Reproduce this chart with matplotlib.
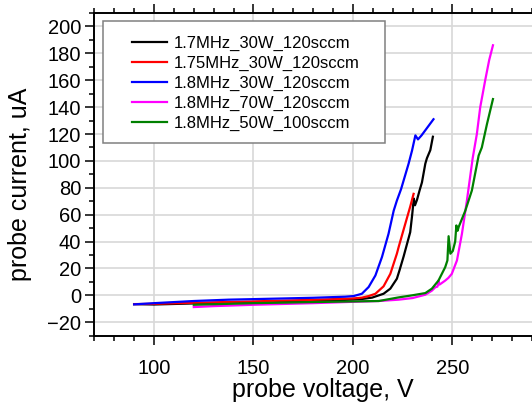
import matplotlib
matplotlib.use("Agg")
import matplotlib.pyplot as plt
from matplotlib.patches import Rectangle
from matplotlib.ticker import MultipleLocator

plt.rcParams['font.family'] = ['Liberation Sans', 'DejaVu Sans']

# probe voltage (V) / probe current (uA)
v_17_30_120 = [90, 100, 120, 150, 180, 200, 205, 209.6, 213, 215.4, 218.8, 222.1, 223.5,
               225.5, 228.8, 229.8, 230.6, 231.2, 232.2, 233.5, 234.7, 236.4, 237.2, 238.9, 240.2]
i_17_30_120 = [-6.5, -6.8, -6.0, -5.0, -4.0, -3.2, -2.6, -1.7, 0, 1.2, 5, 12.4, 19,
               29, 47, 60, 72, 67, 71, 78, 84, 98, 102, 108, 118]

v_175_30_120 = [90, 100, 120, 150, 180, 200, 204.5, 208, 211.3, 215.4, 218.8, 222.1, 223,
                225.5, 228.8, 230.5]
i_175_30_120 = [-6.5, -6.3, -5.5, -4.5, -3.3, -2.3, -1.7, -0.5, 1.2, 6.7, 16, 31, 36,
                49, 66, 75.5]

v_18_30_120 = [90, 100, 120, 137.5, 150, 180, 196, 200.4, 204.5, 207.9, 211.3, 214.6, 217.9,
               220.5, 222.1, 224.2, 228, 229.7, 231.4, 232.7, 234.5, 236.5, 238.5, 240.5]
i_18_30_120 = [-6.7, -5.8, -4.2, -3.2, -2.8, -1.8, -1.0, -0.5, 1.2, 6.2, 14.8, 28.5, 45.8,
               63, 70.5, 79, 98, 107.6, 119, 116, 119, 123, 127, 131]

v_18_70_120 = [120, 130, 150, 180, 200, 213, 223, 230, 236.4, 239.7, 241.4, 242.5, 243, 243.5,
               244.5, 246.4, 248, 249.7, 252.3, 254.8, 257.3, 260.2, 262.3, 264, 266.5, 268.5, 270.4]
i_18_70_120 = [-8.7, -8.0, -7.0, -5.8, -4.8, -4.2, -3.2, -2.0, 0.5, 3.5, 6, 6.5, 11, 8,
               9, 11, 13, 16, 26, 45.8, 70.5, 102, 120, 140, 160, 175, 186]

v_18_50_100 = [120, 130, 150, 180, 200, 213, 223, 229.7, 236.4, 239.7, 243, 244.7, 246.4,
               247.5, 248.1, 249.0, 250.2, 251.4, 252.0, 252.6, 253.2, 256.5, 259.8, 263.2,
               264.8, 267.4, 270.4]
i_18_50_100 = [-7.0, -6.6, -5.8, -5.0, -4.5, -4.2, -1.5, 0, 1.7, 5, 11, 16, 21,
               26, 44, 31, 33, 40, 52, 48, 51, 63, 78, 104, 110, 127.5, 146]

x_major = [100, 150, 200, 250]

series = [
    ('1.7MHz_30W_120sccm', v_17_30_120, i_17_30_120, 'black'),
    ('1.75MHz_30W_120sccm', v_175_30_120, i_175_30_120, '#ff0000'),
    ('1.8MHz_30W_120sccm', v_18_30_120, i_18_30_120, '#0000ff'),
    ('1.8MHz_70W_120sccm', v_18_70_120, i_18_70_120, '#ff00ff'),
    ('1.8MHz_50W_100sccm', v_18_50_100, i_18_50_100, '#008000'),
]

fig = plt.figure(figsize=(5.32, 4.03), dpi=100)
# axes run past the right edge of the picture, as in the reference crop
ax = fig.add_axes([0.1773, 0.167, 0.860, 0.8007])

for label, v, i, c in series:
    ax.plot(v, i, color=c, lw=1.6, label=label)

ax.set_xlim(70, 300)
ax.set_ylim(-30, 210)
ax.set_xticks(x_major)
ax.xaxis.set_minor_locator(MultipleLocator(10))
ax.yaxis.set_major_locator(MultipleLocator(20))
ax.yaxis.set_minor_locator(MultipleLocator(10))

ax.set_axisbelow(True)
ax.grid(True, which='major', color='#d8d8d8', lw=1.2)

for s in ax.spines.values():
    s.set_linewidth(1.4)
ax.tick_params(which='both', direction='out', top=True, right=False, width=1.1)
ax.tick_params(which='major', length=6.5, labelsize=14.5)
ax.tick_params(which='minor', length=3.3)
ax.tick_params(axis='x', which='major', pad=10)
ax.tick_params(axis='y', which='major', pad=3)

ax.set_xlabel('probe voltage, V', fontsize=18)
ax.set_ylabel('probe current, uA', fontsize=18)
ax.xaxis.set_label_coords(0.5, -0.13)
ax.yaxis.set_label_coords(-0.136, 0.47)

# legend frame drawn separately (wide side padding like the original)
frame = Rectangle((103.3 / 532, 1 - 143.3 / 403), (385.3 - 103.3) / 532, (143.3 - 20.7) / 403,
                  transform=fig.transFigure, facecolor='white', edgecolor='#808080',
                  lw=1.1, zorder=3)
ax.add_patch(frame)
ax.legend(loc='upper left', bbox_to_anchor=(131.7 / 532, 1 - 35.5 / 403),
          bbox_transform=fig.transFigure, frameon=False, fontsize=12,
          borderpad=0, borderaxespad=0, handlelength=2.14, handletextpad=0.36,
          labelspacing=0.29)

fig.savefig('out.png', dpi=100)
